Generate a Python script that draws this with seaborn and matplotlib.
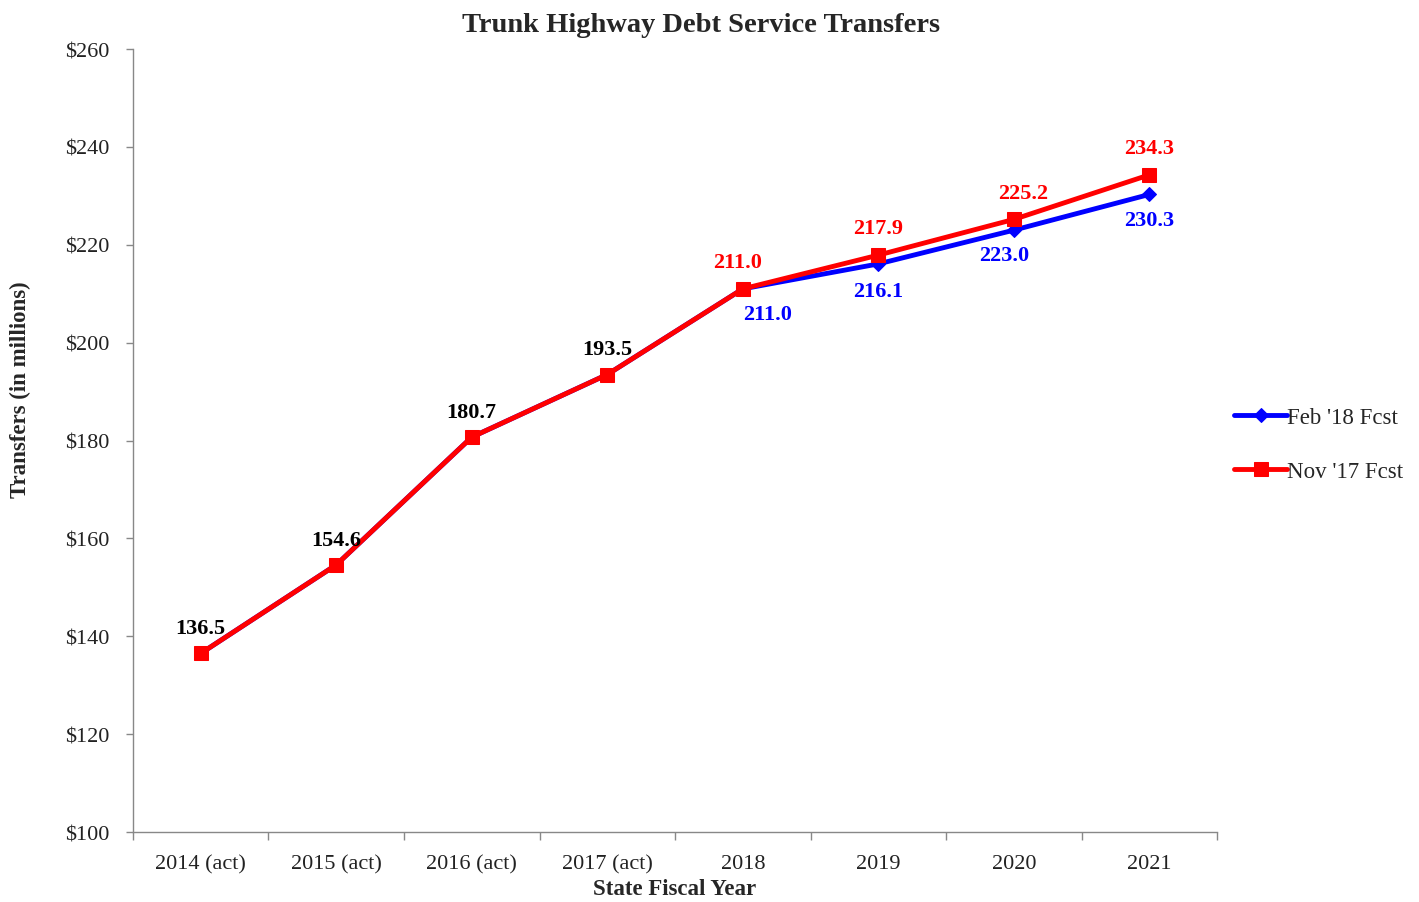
import seaborn as sns
import matplotlib.pyplot as plt
import pandas as pd

years = ["2014 (act)", "2015 (act)", "2016 (act)", "2017 (act)", "2018", "2019", "2020", "2021"]
feb18 = [136.5, 154.6, 180.7, 193.5, 211.0, 216.1, 223.0, 230.3]
nov17 = [136.5, 154.6, 180.7, 193.5, 211.0, 217.9, 225.2, 234.3]
yticks = [100, 120, 140, 160, 180, 200, 220, 240, 260]

sns.set_style("white")
plt.rcParams["font.family"] = ["Liberation Serif", "DejaVu Serif"]

fig = plt.figure(figsize=(14.19, 9.03), dpi=100)
ax = fig.add_axes([0.0937, 0.0775, 0.764, 0.867])

pos = list(range(len(years)))
df = pd.DataFrame({"pos": pos, "feb": feb18, "nov": nov17})

sns.lineplot(data=df, x="pos", y="feb", ax=ax, color="#0000ff", lw=3.5,
             marker="D", markersize=7, markeredgecolor="#0000ff", label="Feb '18 Fcst")
sns.lineplot(data=df, x="pos", y="nov", ax=ax, color="#ff0000", lw=3.5,
             marker="s", markersize=10, markeredgecolor="#ff0000", label="Nov '17 Fcst")

# data labels
lab = dict(fontsize=16, fontweight="bold", ha="center", textcoords="offset points")
for i in range(4):
    ax.annotate(f"{nov17[i]:.1f}", (i, nov17[i]), xytext=(0, 11), color="black", va="bottom", **lab)
red_off = [(-4, 12), (0, 12), (7, 12), (0, 12)]
blue_off = [(18, -11), (0, -12), (-7, -11), (0, -11)]
for j, i in enumerate(range(4, 8)):
    ax.annotate(f"{nov17[i]:.1f}", (i, nov17[i]), xytext=red_off[j], color="#ff0000", va="bottom", **lab)
    ax.annotate(f"{feb18[i]:.1f}", (i, feb18[i]), xytext=blue_off[j], color="#0000ff", va="top", **lab)

ax.set_xlim(-0.5, len(years) - 0.5)
ax.set_ylim(100, 260)
ax.set_xticks(pos)
ax.set_xticklabels(years, fontsize=16, color="#222222")
ax.set_xticks([p - 0.5 for p in pos] + [len(years) - 0.5], minor=True)
ax.tick_params(axis="x", which="major", length=0, pad=16)
ax.tick_params(axis="x", which="minor", bottom=True, length=6, width=1, color="#888888")
ax.set_yticks(yticks)
ax.set_yticklabels([f"${v}" for v in yticks], fontsize=16, color="#222222")
ax.tick_params(axis="y", left=True, length=5, width=1, color="#888888", pad=12)

for s in ["top", "right"]:
    ax.spines[s].set_visible(False)
for s in ["left", "bottom"]:
    ax.spines[s].set_color("#888888")
    ax.spines[s].set_linewidth(1)

ax.set_xlabel("State Fiscal Year", fontsize=16.5, fontweight="bold", labelpad=3)
ax.set_ylabel("Transfers (in millions)", fontsize=16.5, fontweight="bold")
ax.yaxis.set_label_coords(-0.094, 0.566)
fig.suptitle("Trunk Highway Debt Service Transfers", fontsize=20.5, fontweight="bold",
             x=0.494, y=0.986, va="top")

ax.legend(loc="center left", bbox_to_anchor=(0.997, 0.495), frameon=False, fontsize=16.5,
          handlelength=2.3, handletextpad=0.0, labelspacing=1.45)

fig.savefig("out.png", dpi=100)
